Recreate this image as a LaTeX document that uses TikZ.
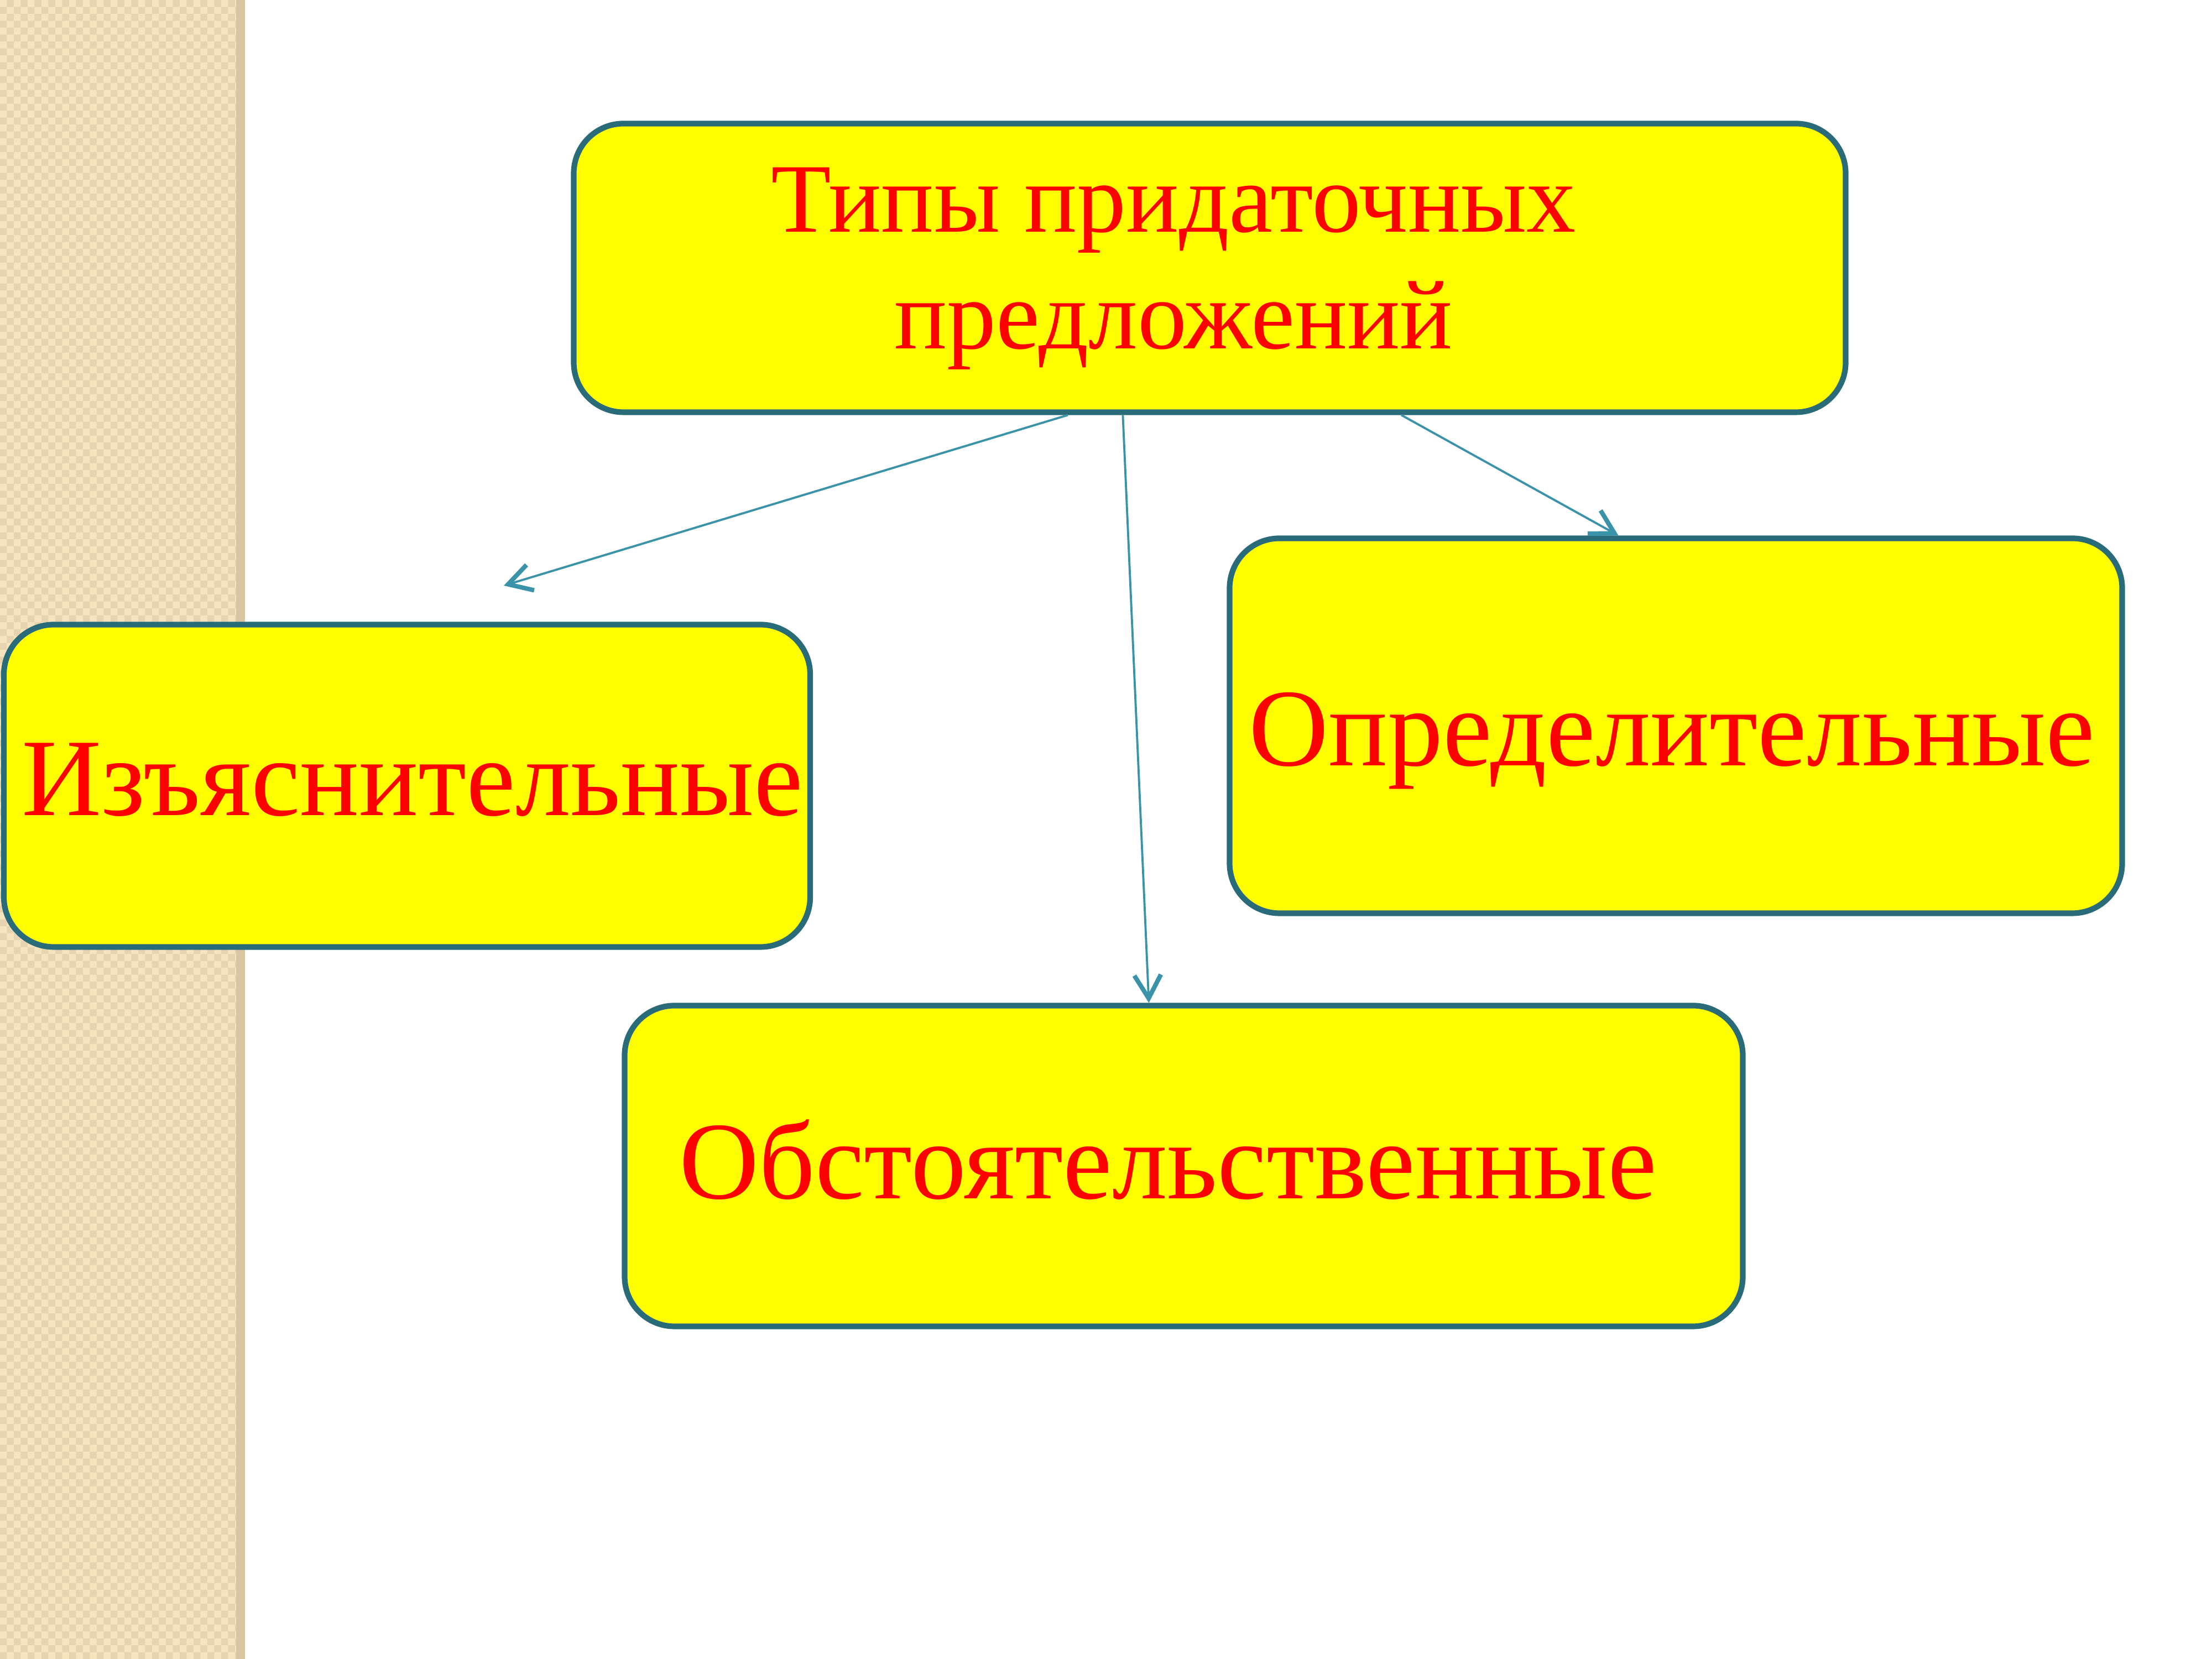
\documentclass[tikz,border=0pt]{standalone}
\usepackage{fontspec}
\setmainfont{Liberation Serif}
\usepackage{xcolor}
\usepackage{tikz}
\usetikzlibrary{arrows.meta,positioning,calc,patterns}
\definecolor{boxyellow}{RGB}{255,255,0}
\definecolor{boxedge}{RGB}{42,107,122}
\definecolor{arrowteal}{RGB}{58,147,168}
\definecolor{textred}{RGB}{255,0,0}
\definecolor{stripbase}{RGB}{246,228,190}
\definecolor{stripcell}{RGB}{229,212,175}
\definecolor{stripband}{RGB}{214,198,164}
\pgfdeclarepatternformonly{stripchecks}{\pgfpointorigin}{\pgfqpoint{7.1pt}{7.1pt}}{\pgfqpoint{7.1pt}{7.1pt}}{%
  \pgfpathrectangle{\pgfpointorigin}{\pgfqpoint{3.55pt}{3.55pt}}%
  \pgfpathrectangle{\pgfqpoint{3.55pt}{3.55pt}}{\pgfqpoint{3.55pt}{3.55pt}}%
  \pgfusepath{fill}}

\begin{document}
\begin{tikzpicture}[
    box/.style={draw=boxedge, line width=2.9pt, rounded corners=0.9cm, fill=boxyellow, inner sep=0pt},
    lbl/.style={text=textred, font=\fontsize{56.8}{66}\selectfont, inner sep=0pt},
    link/.style={draw=arrowteal, line width=1.1pt, -{Straight Barb[length=4.2mm, width=4.8mm, line width=2.3pt]}}
  ]
  \useasboundingbox (0,0) rectangle (40,30);
  % decorative strip on the left
  \fill[stripbase] (0,0) rectangle (4.27,30);
  \fill[pattern=stripchecks, pattern color=stripcell] (0,0) rectangle (4.27,30);
  \fill[stripband] (4.27,0) rectangle (4.43,30);

  % boxes
  \node[box, minimum width=23cm, minimum height=5.22cm] (types) at (21.875,25.155) {};
  \node[box, minimum width=14.58cm, minimum height=5.83cm] (izyas) at (7.36,15.79) {};
  \node[box, minimum width=16.14cm, minimum height=6.78cm] (opred) at (30.305,16.875) {};
  \node[box, minimum width=20.22cm, minimum height=5.80cm] (obst) at (21.405,8.915) {};

  % labels
  \node[lbl, align=center, font=\fontsize{50.6}{60}\selectfont] (typesText) at (21.22,25.14) {Типы придаточных\\предложений};
  \node[lbl, anchor=base] (izyasText) at (7.46,15.255) {Изъяснительные};
  \node[lbl, anchor=base] (opredText) at (30.23,16.15) {Определительные};
  \node[lbl, anchor=base] (obstText) at (21.12,8.32) {Обстоятельственные};

  % arrows
  \coordinate (izyasTip) at (9.11,19.41);
  \draw[link] ($(types.south west)!0.389!(types.south east)$) -- (izyasTip);
  \draw[link] ($(types.south west)!0.432!(types.south east)$) -- ($(obst.north west)!0.469!(obst.north east)$);
  \draw[link] ($(types.south west)!0.650!(types.south east)$) -- ($(opred.north west)!0.436!(opred.north east)$);
\end{tikzpicture}
\end{document}
